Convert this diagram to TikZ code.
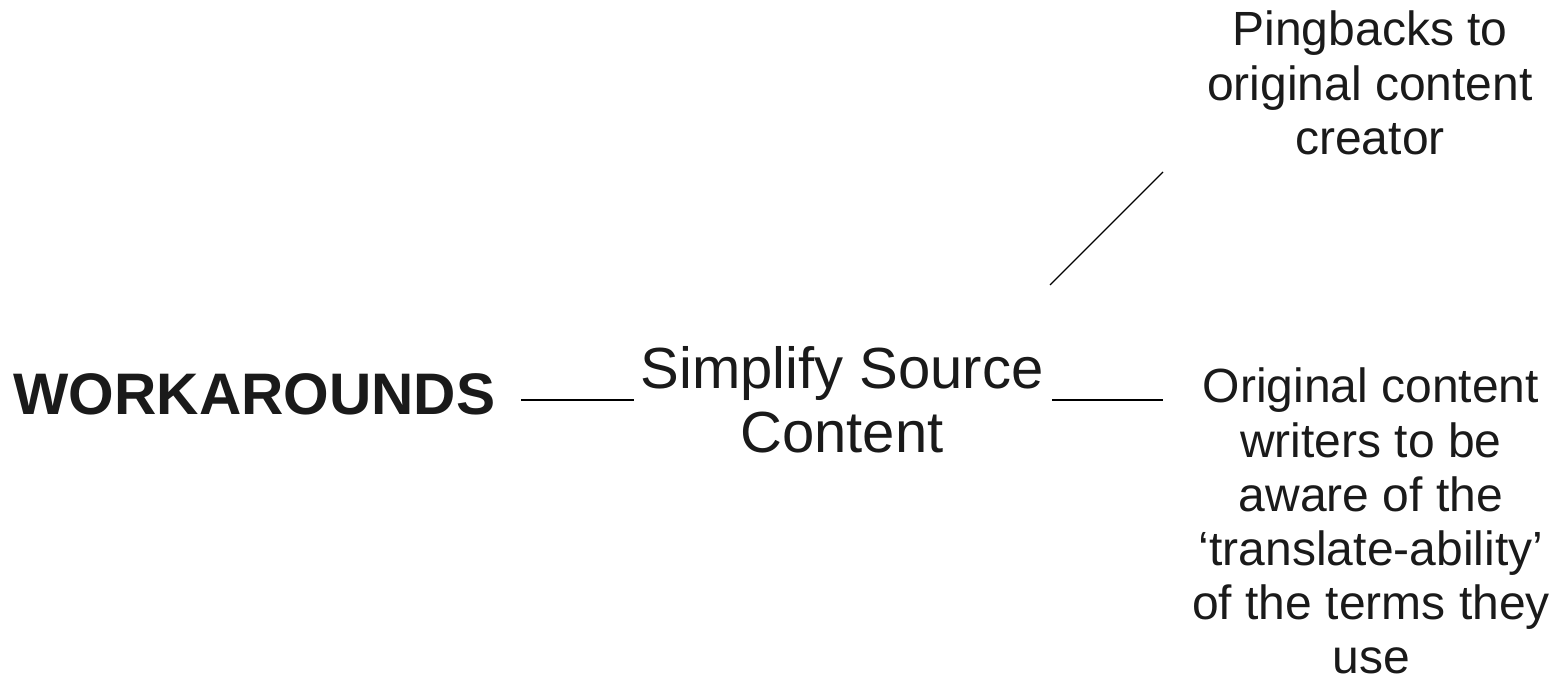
\documentclass[tikz,border=0pt]{standalone}
\usepackage{fontspec}
\setmainfont{Liberation Sans}
\definecolor{ink}{HTML}{1A1A1A}
\tikzset{
  label58/.style={inner sep=0pt, text=ink, font=\fontsize{58}{64}\selectfont, align=center},
  label48/.style={inner sep=0pt, text=ink, font=\fontsize{48}{54.2}\selectfont, align=center},
  link/.style={draw=black, line width=1.2pt}
}
\begin{document}
\begin{tikzpicture}[x=1pt,y=1pt]
  \useasboundingbox (0,0) rectangle (1565,673);
  % main title
  \node[label58, font=\fontsize{58.6}{64}\selectfont\bfseries, anchor=base] (work) at (254.5,258.5) {WORKAROUNDS};
  % central topic
  \node[label58, anchor=north] (simp) at (842,327) {Simplify Source\\Content};
  % branches
  \node[label48, anchor=north] (ping) at (1370,662) {Pingbacks to\\original content\\creator};
  \node[label48, anchor=north] (orig) at (1371,305) {Original content\\writers to be\\aware of the\\‘translate-ability’\\of the terms they\\use};
  % connector ends
  \coordinate (w2s) at (521,273);
  \coordinate (s2w) at (634,273);
  \coordinate (s2o) at (1052,273);
  \coordinate (o2s) at (1163,273);
  \coordinate (s2p) at (1050,388);
  \coordinate (p2s) at (1163,501);
  \draw[link] (w2s) -- (s2w);
  \draw[link] (s2o) -- (o2s);
  \draw[link] (s2p) -- (p2s);
\end{tikzpicture}
\end{document}
